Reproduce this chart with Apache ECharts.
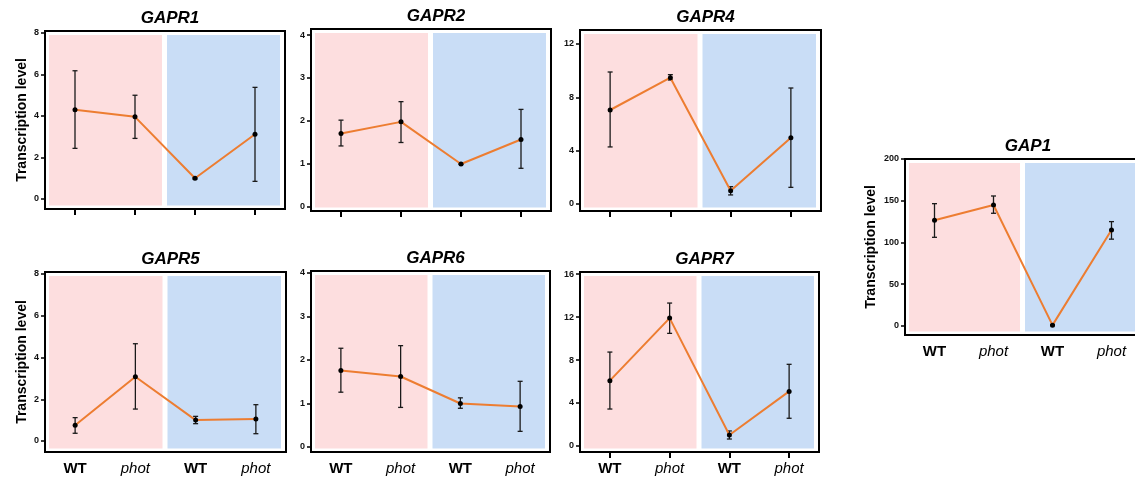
<!DOCTYPE html>
<html>
<head>
<meta charset="utf-8">
<script src="https://cdn.jsdelivr.net/npm/echarts@6/dist/echarts.min.js"></script>
<style>html,body{margin:0;padding:0;background:#fff}#c{width:1135px;height:479px}</style>
</head>
<body>
<div id="c"></div>
<script>
// ---------- data ----------
const categories = ['WT', 'phot', 'WT', 'phot'];
const genes = ['GAPR1', 'GAPR2', 'GAPR4', 'GAPR5', 'GAPR6', 'GAPR7', 'GAP1'];

const gapr1Mean = [4.30, 3.96, 1.00, 3.12];
const gapr1Low  = [2.44, 2.92, 0.96, 0.85];
const gapr1High = [6.18, 5.00, 1.04, 5.38];

const gapr2Mean = [1.71, 1.98, 1.00, 1.57];
const gapr2Low  = [1.42, 1.50, 0.99, 0.90];
const gapr2High = [2.02, 2.45, 1.01, 2.27];

const gapr4Mean = [7.05, 9.47, 1.00, 4.97];
const gapr4Low  = [4.28, 9.30, 0.68, 1.25];
const gapr4High = [9.90, 9.70, 1.30, 8.70];

const gapr5Mean = [0.75, 3.08, 1.00, 1.05];
const gapr5Low  = [0.37, 1.53, 0.83, 0.35];
const gapr5High = [1.12, 4.66, 1.18, 1.74];

const gapr6Mean = [1.76, 1.62, 1.00, 0.93];
const gapr6Low  = [1.26, 0.91, 0.89, 0.36];
const gapr6High = [2.27, 2.33, 1.13, 1.51];

const gapr7Mean = [6.08, 11.90, 1.02, 5.08];
const gapr7Low  = [3.44, 10.48, 0.65, 2.58];
const gapr7High = [8.74, 13.30, 1.40, 7.60];

const gap1Mean = [126.6, 144.9, 1.0, 115.0];
const gap1Low  = [106.2, 135.0, 0.5, 104.0];
const gap1High = [146.5, 155.7, 1.5, 125.0];

const ticksGAPR1 = [0, 2, 4, 6, 8];
const ticksGAPR2 = [0, 1, 2, 3, 4];
const ticksGAPR4 = [0, 4, 8, 12];
const ticksGAPR5 = [0, 2, 4, 6, 8];
const ticksGAPR6 = [0, 1, 2, 3, 4];
const ticksGAPR7 = [0, 4, 8, 12, 16];
const ticksGAP1  = [0, 50, 100, 150, 200];

// background groups: [first category index, last category index]
const groups = [[0, 1], [2, 3]];

// ---------- layout / style ----------
const FONT = 'Liberation Sans, Arial, sans-serif';
const panels = [
  {name: genes[0], mean: gapr1Mean, low: gapr1Low, high: gapr1High, ticks: ticksGAPR1, min: -0.482, max: 8.096,
   grid: {left: 45, top: 31, width: 240, height: 178}, xLabels: false, xTicks: true, yName: true, nameGap: 16},
  {name: genes[1], mean: gapr2Mean, low: gapr2Low, high: gapr2High, ticks: ticksGAPR2, min: -0.093, max: 4.14,
   grid: {left: 311, top: 29, width: 240, height: 182}, xLabels: false, xTicks: true, yName: false},
  {name: genes[2], mean: gapr4Mean, low: gapr4Low, high: gapr4High, ticks: ticksGAPR4, min: -0.525, max: 13.05,
   grid: {left: 580, top: 30, width: 241, height: 181}, xLabels: false, xTicks: true, yName: false},
  {name: genes[3], mean: gapr5Mean, low: gapr5Low, high: gapr5High, ticks: ticksGAPR5, min: -0.527, max: 8.096,
   grid: {left: 45, top: 272, width: 241, height: 180}, xLabels: true, xTicks: false, yName: true, nameGap: 16},
  {name: genes[4], mean: gapr6Mean, low: gapr6Low, high: gapr6High, ticks: ticksGAPR6, min: -0.115, max: 4.046,
   grid: {left: 311, top: 271, width: 239, height: 181}, xLabels: true, xTicks: false, yName: false},
  {name: genes[5], mean: gapr7Mean, low: gapr7Low, high: gapr7High, ticks: ticksGAPR7, min: -0.558, max: 16.19,
   grid: {left: 580, top: 272, width: 239, height: 180}, xLabels: true, xTicks: true, yName: false},
  {name: genes[6], mean: gap1Mean, low: gap1Low, high: gap1High, ticks: ticksGAP1, min: -10.8, max: 200,
   grid: {left: 905, top: 159, width: 236, height: 176}, xLabels: true, xTicks: false, yName: true, nameGap: 27}
];

const bgColors = ['#FDDEDF', '#C9DDF6'];
const bgInset = [[4, 3], [2, 5]];

const option = {
  animation: false,
  backgroundColor: '#fff',
  title: [], grid: [], xAxis: [], yAxis: [], series: []
};

panels.forEach((p, i) => {
  const g = p.grid;
  option.grid.push({left: g.left, top: g.top, width: g.width, height: g.height,
    show: true, borderColor: '#000', borderWidth: 2, backgroundColor: 'transparent',
    containLabel: false, outerBoundsMode: 'none'});
  option.title.push({
    text: p.name, left: g.left + g.width / 2, top: g.top - 26, textAlign: 'center',
    textStyle: {fontFamily: FONT, fontSize: 17, fontWeight: 'bold', fontStyle: 'italic', color: '#000'}
  });
  option.xAxis.push({
    type: 'category', gridIndex: i, data: categories, boundaryGap: true,
    axisLine: {show: true, onZero: false, lineStyle: {color: '#000', width: 2}},
    axisTick: {show: p.xTicks, alignWithLabel: true, length: 6, lineStyle: {color: '#000', width: 2}},
    axisLabel: {
      show: p.xLabels, margin: 9, interval: 0,
      formatter: (v) => v === 'WT' ? '{b|' + v + '}' : '{i|' + v + '}',
      rich: {
        b: {fontFamily: FONT, fontSize: 15, fontWeight: 'bold', color: '#000'},
        i: {fontFamily: FONT, fontSize: 15, fontStyle: 'italic', color: '#000'}
      }
    },
    splitLine: {show: false}
  });
  option.yAxis.push({
    type: 'value', gridIndex: i, min: p.min, max: p.max,
    name: p.yName ? 'Transcription level' : '', nameLocation: 'middle', nameGap: p.nameGap || 20,
    nameTextStyle: {fontFamily: FONT, fontSize: 14, fontWeight: 'bold', color: '#000'},
    axisLine: {show: true, onZero: false, lineStyle: {color: '#000', width: 2}},
    axisTick: {show: true, length: 4, customValues: p.ticks, lineStyle: {color: '#000', width: 1.5}},
    axisLabel: {show: true, customValues: p.ticks, margin: 6,
      fontFamily: FONT, fontSize: 9, fontWeight: 'bold', color: '#111'},
    splitLine: {show: false}
  });
  // background shading
  option.series.push({
    type: 'custom', xAxisIndex: i, yAxisIndex: i, z: 1, silent: true,
    data: groups.map((gr, k) => [gr[0], gr[1], 0, k]),
    encode: {x: [0, 1], y: 2},
    renderItem: (params, api) => {
      const a = api.value(0), b = api.value(1), k = api.value(3);
      const band = api.size([1, 0])[0];
      const cs = params.coordSys;
      const xa = api.coord([a, 0])[0] - band / 2 + bgInset[k][0];
      const xb = api.coord([b, 0])[0] + band / 2 - bgInset[k][1];
      return {type: 'rect', shape: {x: xa, y: cs.y + 4, width: xb - xa, height: cs.height - 7.5},
        style: {fill: bgColors[k]}};
    }
  });
  // error bars
  option.series.push({
    type: 'custom', xAxisIndex: i, yAxisIndex: i, z: 3, silent: true,
    data: categories.map((c, k) => [k, p.low[k], p.high[k]]),
    encode: {x: 0, y: [1, 2]},
    renderItem: (params, api) => {
      const x = api.value(0);
      const lo = api.coord([x, api.value(1)]);
      const hi = api.coord([x, api.value(2)]);
      const w = 2.5;
      const st = {stroke: '#1a1a1a', lineWidth: 1.3};
      return {type: 'group', children: [
        {type: 'line', shape: {x1: lo[0], y1: lo[1], x2: hi[0], y2: hi[1]}, style: st},
        {type: 'line', shape: {x1: lo[0] - w, y1: lo[1], x2: lo[0] + w, y2: lo[1]}, style: st},
        {type: 'line', shape: {x1: hi[0] - w, y1: hi[1], x2: hi[0] + w, y2: hi[1]}, style: st}
      ]};
    }
  });
  // mean line
  option.series.push({
    type: 'line', xAxisIndex: i, yAxisIndex: i, z: 4,
    data: p.mean.map((v, k) => [k, v]),
    symbol: 'circle', symbolSize: 5, showSymbol: true,
    itemStyle: {color: '#000', borderWidth: 0},
    lineStyle: {color: '#ED7D31', width: 2},
    emphasis: {disabled: true}
  });
});

const chart = echarts.init(document.getElementById('c'), null, {renderer: 'canvas'});
chart.setOption(option);
</script>
</body>
</html>
